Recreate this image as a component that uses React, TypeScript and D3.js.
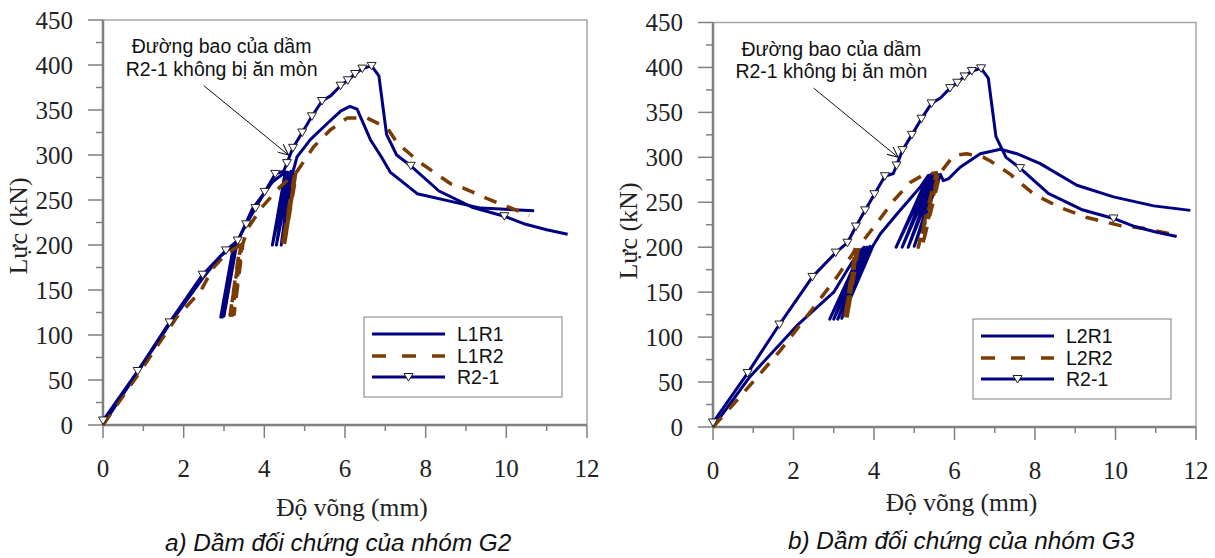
import * as d3 from "d3";

type Pt = [number, number];
type MPt = [number, number, number]; // [deflection, force, marker?]

const xTicks = [0, 2, 4, 6, 8, 10, 12];
const yTicks = [0, 50, 100, 150, 200, 250, 300, 350, 400, 450];

// control beam R2-1 (same envelope on both panels), third value = marker shown
const R2_1: MPt[] = [
  [0, 5, 1], [0.86, 60, 1], [1.65, 114, 1], [2.47, 167, 1], [3.05, 194, 1],
  [3.34, 205, 1], [3.55, 223, 1], [3.78, 241, 1], [4.01, 259, 1], [4.27, 279, 1],
  [4.48, 282, 0], [4.56, 291, 1], [4.71, 308, 1], [4.94, 325, 1], [5.18, 343, 1],
  [5.43, 360, 1], [5.65, 366, 0], [5.89, 377, 1], [6.07, 383, 1], [6.25, 390, 1],
  [6.43, 396, 1], [6.66, 399, 1], [6.84, 388, 0], [7.03, 323, 0], [7.28, 300, 0],
  [7.63, 288, 1], [8.33, 260, 0], [9.15, 242, 0], [9.95, 232, 1], [10.48, 223, 0],
  [11.0, 217, 0], [11.52, 212, 0],
];

const L1R1: Pt[] = [
  [0, 0], [0.85, 58], [1.65, 112], [2.47, 163], [2.9, 187], [3.24, 200],
  [2.92, 120], [3.27, 200], [2.96, 120], [3.3, 201], [3.0, 121], [3.32, 202],
  [3.7, 240], [4.2, 270], [4.52, 281],
  [4.2, 200], [4.58, 281], [4.3, 200], [4.66, 282], [4.42, 200], [4.72, 283],
  [4.81, 298], [5.14, 317], [5.56, 335], [5.9, 349], [6.12, 354], [6.3, 351],
  [6.63, 317], [6.9, 298], [7.12, 281], [7.79, 257], [8.87, 246], [9.37, 241], [10.69, 238],
];

const L1R2: Pt[] = [
  [0, 0], [0.9, 58], [1.83, 120], [2.41, 148], [2.74, 175], [3.05, 190], [3.4, 200],
  [3.15, 122], [3.42, 200], [3.2, 122], [3.45, 201], [3.25, 123], [3.47, 202],
  [3.61, 220], [3.94, 242], [4.4, 265], [4.75, 279],
  [4.45, 200], [4.78, 280], [4.5, 201], [4.8, 281],
  [5.22, 309], [5.64, 328], [6.05, 341], [6.55, 341], [7.05, 330], [7.3, 313],
  [7.88, 291], [8.62, 268], [8.95, 263], [9.61, 250], [10.57, 233],
];

const L2R1: Pt[] = [
  [0, 0], [0.9, 55], [2.09, 113], [3.0, 150], [3.45, 183], [3.7, 198],
  [2.9, 120], [3.75, 200], [3.0, 120], [3.82, 200], [3.1, 120], [3.9, 201], [3.2, 121], [3.98, 202],
  [4.16, 215], [4.57, 237], [5.15, 267], [5.35, 280],
  [4.55, 200], [5.42, 281], [4.7, 200], [5.5, 281], [4.85, 200], [5.58, 281], [5.0, 201], [5.65, 281],
  [5.72, 274], [5.85, 276], [6.14, 289], [6.64, 304], [7.14, 309], [7.55, 304],
  [8.13, 293], [9.04, 269], [9.95, 256], [10.95, 246], [11.86, 241],
];

const L2R2: Pt[] = [
  [0, 0], [0.6, 30], [1.67, 85], [2.5, 133], [3.08, 167], [3.49, 194], [3.55, 200],
  [3.27, 121], [3.58, 200], [3.33, 121], [3.62, 201],
  [3.99, 222], [4.49, 252], [4.9, 272], [5.25, 281], [5.55, 283],
  [5.1, 200], [5.6, 282], [5.2, 201], [5.65, 283],
  [5.98, 302], [6.3, 304], [6.72, 300], [6.89, 296], [7.39, 281], [7.97, 259],
  [8.63, 244], [9.29, 233], [10.12, 224], [10.7, 221], [11.36, 215],
];

const namesA = ["L1R1", "L1R2", "R2-1"];
const namesB = ["L2R1", "L2R2", "R2-1"];
const captionA = "a) Dầm đối chứng của nhóm G2";
const captionB = "b) Dầm đối chứng của nhóm G3";
const noteLines = ["Đường bao của dầm", "R2-1 không bị ăn mòn"];
const noteFrom: Pt = [2.5, 377];
const noteTo: Pt = [4.6, 300];

const NAVY = "#000080";
const BROWN = "#7a3c00";
const GRID = "#808080";
const SERIF = "'Liberation Serif','Times New Roman',serif";
const SANS = "'Liberation Sans',Arial,sans-serif";

const tri = "M-4.5,-3.5L4.5,-3.5L0,4Z";

function Panel({ left, right, top, bottom, solid, dashed, names, caption, capX, capY, titleY, ylabX, ylabY }: any) {
  const x = d3.scaleLinear().domain([0, 12]).range([left, right]);
  const y = d3.scaleLinear().domain([0, 450]).range([bottom, top]);
  const line = d3.line<number[]>().x((d) => x(d[0])).y((d) => y(d[1]));
  const minorX = d3.range(0, 12.01, 1);
  const minorY = d3.range(0, 451, 25);
  const lgR = right - 25, lgB = bottom - 28, lgL = lgR - 198, lgT = lgB - 80;
  const rows = [lgT + 17, lgT + 39, lgT + 60];

  return (
    <g>
      {/* frame */}
      <path d={`M${left},${top}H${right}V${bottom}`} fill="none" stroke="#a6a6a6" strokeWidth={1.5} />
      {minorY.map((t) => (
        <line key={"my" + t} x1={left - (t % 50 === 0 ? 15 : 7)} x2={left} y1={y(t)} y2={y(t)} stroke={GRID} strokeWidth={1.5} />
      ))}
      {minorX.map((t) => (
        <line key={"mx" + t} x1={x(t)} x2={x(t)} y1={bottom} y2={bottom + (t % 2 === 0 ? 13 : 6)} stroke={GRID} strokeWidth={1.5} />
      ))}
      <line x1={left} x2={left} y1={top} y2={bottom} stroke={GRID} strokeWidth={2.5} />
      <line x1={left} x2={right} y1={bottom} y2={bottom} stroke={GRID} strokeWidth={2.5} />
      {yTicks.map((t) => (
        <text key={"yl" + t} x={left - 30} y={y(t)} dy="0.35em" textAnchor="end" fontFamily={SERIF} fontSize={25} fill="#222">{t}</text>
      ))}
      {xTicks.map((t) => (
        <text key={"xl" + t} x={x(t)} y={bottom + 52} textAnchor="middle" fontFamily={SERIF} fontSize={25} fill="#222">{t}</text>
      ))}
      <text x={(left + right) / 2 + 7} y={titleY} textAnchor="middle" fontFamily={SERIF} fontSize={25.5} fill="#222">Độ võng (mm)</text>
      <text transform={`translate(${ylabX},${ylabY}) rotate(-90)`} textAnchor="middle" fontFamily={SERIF} fontSize={26} fill="#222">Lực (kN)</text>

      {/* series */}
      <path d={line(solid) ?? ""} fill="none" stroke={NAVY} strokeWidth={3} strokeLinejoin="round" />
      <path d={line(dashed) ?? ""} fill="none" stroke={BROWN} strokeWidth={3.5} strokeDasharray="13 11" strokeLinejoin="round" />
      <path d={line(R2_1) ?? ""} fill="none" stroke={NAVY} strokeWidth={3} strokeLinejoin="round" />
      {R2_1.filter((d) => d[2]).map((d, i) => (
        <path key={"m" + i} d={tri} transform={`translate(${x(d[0])},${y(d[1])})`} fill="#fff" stroke="#222" strokeWidth={1} />
      ))}

      {/* annotation */}
      {noteLines.map((s, i) => (
        <text key={"n" + i} x={x(2.94)} y={y(i === 0 ? 413 : 388)} textAnchor="middle" fontFamily={SANS} fontSize={19.5} fill="#111">{s}</text>
      ))}
      <line x1={x(noteFrom[0])} y1={y(noteFrom[1])} x2={x(noteTo[0])} y2={y(noteTo[1])} stroke="#111" strokeWidth={1} markerEnd="url(#arr)" />

      {/* legend */}
      <rect x={lgL} y={lgT} width={lgR - lgL} height={lgB - lgT} fill="#fff" stroke={GRID} strokeWidth={1} />
      {names.map((n: string, i: number) => (
        <g key={n + i}>
          <line x1={lgL + 8} x2={lgL + 81} y1={rows[i]} y2={rows[i]} stroke={i === 1 ? BROWN : NAVY} strokeWidth={i === 1 ? 3.5 : 3} strokeDasharray={i === 1 ? "14 16" : undefined} />
          {i === 2 && <path d={tri} transform={`translate(${lgL + 44.5},${rows[i]})`} fill="#fff" stroke="#222" strokeWidth={1} />}
          <text x={lgL + 93} y={rows[i] + 7} fontFamily={SANS} fontSize={19.5} fill="#111">{n}</text>
        </g>
      ))}

      <text x={capX} y={capY} fontFamily={SANS} fontStyle="italic" fontSize={24.3} fill="#111">{caption}</text>
    </g>
  );
}

export default function App() {
  return (
    <div style={{ position: "absolute", left: 0, top: 0, background: "#fff" }}>
      <svg width={1215} height={558} style={{ display: "block" }}>
        <defs>
          <marker id="arr" viewBox="0 0 12 10" refX={11} refY={5} markerWidth={12} markerHeight={10} markerUnits="userSpaceOnUse" orient="auto">
            <path d="M0,0L11,5L0,10" fill="none" stroke="#111" strokeWidth={1} />
          </marker>
        </defs>
        <rect width={1215} height={558} fill="#fff" />
        <Panel left={103} right={587} top={20} bottom={425} solid={L1R1} dashed={L1R2} names={namesA}
          caption={captionA} capX={165} capY={551} titleY={516} ylabX={27} ylabY={226} />
        <Panel left={713} right={1196} top={22.5} bottom={427} solid={L2R1} dashed={L2R2} names={namesB}
          caption={captionB} capX={788} capY={549} titleY={511} ylabX={637} ylabY={231} />
      </svg>
    </div>
  );
}
